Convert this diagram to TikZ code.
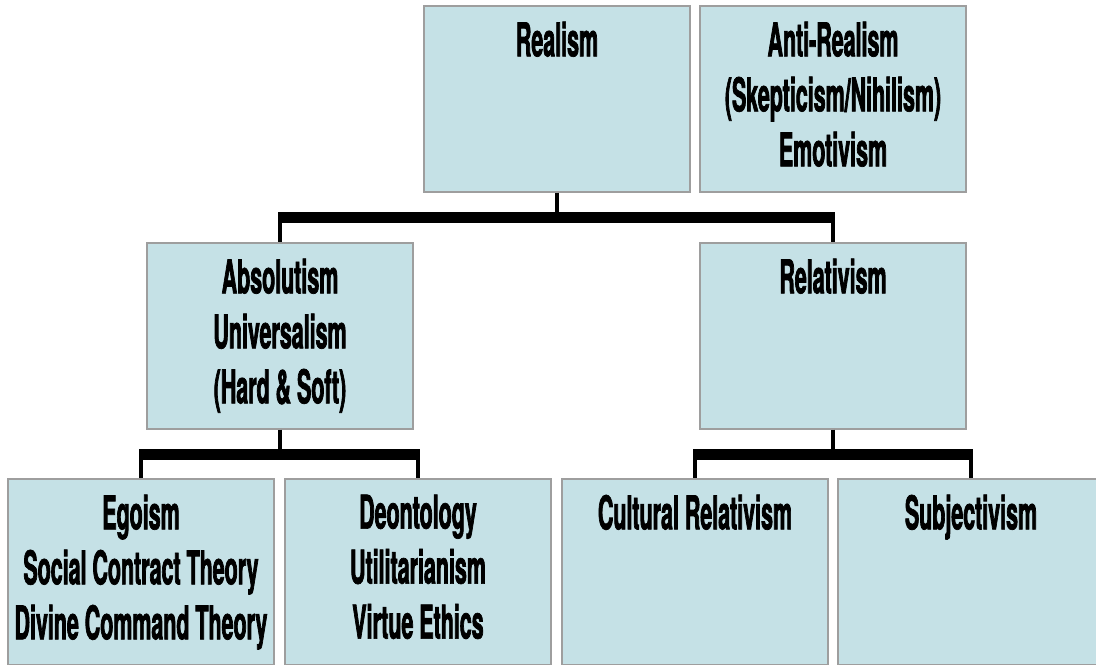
\documentclass[tikz,border=0pt]{standalone}
\usepackage{fontspec}
\setmainfont{TeX Gyre Heros}[FakeStretch=0.46,FakeBold=1.5]
\usetikzlibrary{positioning}
\definecolor{boxblue}{RGB}{197,225,230}
\definecolor{boxgray}{RGB}{158,158,158}

\begin{document}
\begin{tikzpicture}[x=0.02cm, y=-0.02cm,
    box/.style={draw=boxgray, fill=boxblue, line width=0.8pt, minimum width=5.32cm, minimum height=3.72cm, inner sep=0pt},
    txt/.style={align=center, inner sep=0pt, font=\bfseries\fontsize{26.5}{31.3}\selectfont},
    stem/.style={line width=2.3pt},
    bar/.style={line width=6.2pt, shorten <=-1.1pt, shorten >=-1.1pt}]
  \useasboundingbox (0,0) rectangle (1096,664);
  \clip (0,0) rectangle (1096,664);

  % top row
  \node[box] (realism) at (557,99) {};
  \node[box] (antireal) at (833,99) {};
  \node[txt, below=0.32cm of realism.north] (realism-t) {Realism};
  \node[txt, below=0.32cm of antireal.north] (antireal-t) {Anti-Realism\\(Skepticism/Nihilism)\\Emotivism};

  % middle row
  \node[box] (absol) at (280,336) {};
  \node[box] (relat) at (833,336) {};
  \node[txt, below=0.32cm of absol.north] (absol-t) {Absolutism\\Universalism\\(Hard \& Soft)};
  \node[txt, below=0.32cm of relat.north] (relat-t) {Relativism};

  % bottom row
  \node[box] (egoism) at (141,572) {};
  \node[box] (deont) at (418,572) {};
  \node[box] (cultrel) at (695,572) {};
  \node[box] (subj) at (971,572) {};
  \node[txt, below=0.32cm of egoism.north] (egoism-t) {Egoism\\Social Contract Theory\\Divine Command Theory};
  \node[txt, below=0.32cm of deont.north] (deont-t) {Deontology\\Utilitarianism\\Virtue Ethics};
  \node[txt, below=0.32cm of cultrel.north] (cultrel-t) {Cultural Relativism};
  \node[txt, below=0.32cm of subj.north] (subj-t) {Subjectivism};

  % connectors
  \path (realism.south) ++(0,25) coordinate (j1);
  \path (absol.south) ++(0,25) coordinate (j2);
  \path (relat.south) ++(0,25) coordinate (j3);

  \draw[stem] (realism.south) -- (j1);
  \draw[stem] (j1 -| absol.north) -- (absol.north);
  \draw[stem] (j1 -| relat.north) -- (relat.north);
  \draw[bar] (j1 -| absol.north) -- (j1 -| relat.north);

  \draw[stem] (absol.south) -- (j2);
  \draw[stem] (j2 -| egoism.north) -- (egoism.north);
  \draw[stem] (j2 -| deont.north) -- (deont.north);
  \draw[bar] (j2 -| egoism.north) -- (j2 -| deont.north);

  \draw[stem] (relat.south) -- (j3);
  \draw[stem] (j3 -| cultrel.north) -- (cultrel.north);
  \draw[stem] (j3 -| subj.north) -- (subj.north);
  \draw[bar] (j3 -| cultrel.north) -- (j3 -| subj.north);
\end{tikzpicture}
\end{document}
